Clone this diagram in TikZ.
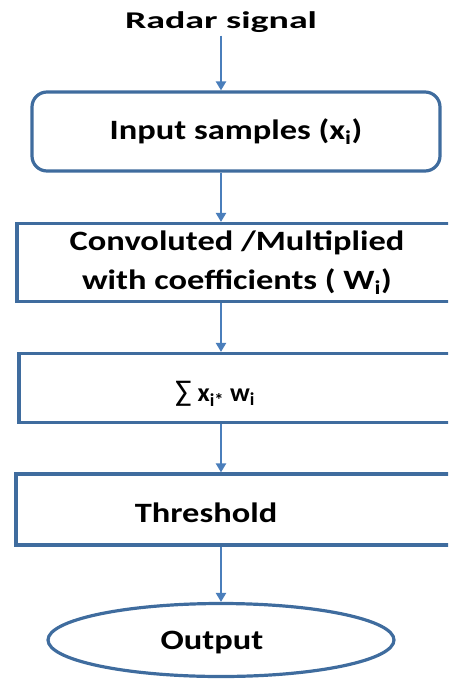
\documentclass[tikz,border=0pt]{standalone}
\usepackage{fontspec}
\usepackage{graphicx}
\setmainfont{Carlito}
\usetikzlibrary{positioning, arrows.meta, shapes.geometric}
\definecolor{boxblue}{HTML}{3F6C9E}
\definecolor{arrowblue}{HTML}{4A7EBB}
\newcommand{\widetext}[2][1.23]{\scalebox{#1}[1]{#2}}
\tikzset{
  txt/.style={font=\fontsize{28}{39}\selectfont\bfseries, align=center, inner sep=0pt},
  block/.style={draw=boxblue, line width=3.2pt, rectangle, fill=white},
  rblock/.style={block, rounded corners=15pt},
  oval/.style={draw=boxblue, line width=3.2pt, ellipse},
  flow/.style={draw=arrowblue, line width=2.4pt, -{Triangle[length=9pt, width=10pt]}},
}

\begin{document}
\begin{tikzpicture}[x=1pt, y=-1pt]
  \useasboundingbox (0,0) rectangle (448,679);
  \clip (0,0) rectangle (448,679);
  % title
  \node[txt, font=\fontsize{24}{30}\selectfont\bfseries, inner sep=3pt] (sig) at (221,22)
    {\widetext[1.58]{Radar signal}};
  % boxes
  \node[rblock, txt, minimum width=408pt, minimum height=79pt] (inp) at (236,131.5)
    {\widetext{Input samples (x\textsubscript{i})}};
  \node[block, txt, minimum width=440pt, minimum height=78pt] (conv) at (237,262.5)
    {\widetext{Convoluted /Multiplied}\\\widetext{with coefficients ( W\textsubscript{i})}};
  \node[block, minimum width=440pt, minimum height=69pt,
        label={[txt, font=\fontsize{26}{30}\selectfont\bfseries, xshift=-24pt, yshift=-6pt]center:%
          \widetext[1.02]{{\mdseries\fontsize{30}{30}\selectfont ∑} x\textsubscript{i*} w\textsubscript{i}}}] (sum) at (239,388) {};
  \node[block, minimum width=442pt, minimum height=71pt,
        label={[txt, xshift=-31pt, yshift=-3pt]center:\widetext{Threshold}}] (thr) at (237,509.5) {};
  \node[oval, minimum width=346pt, minimum height=73pt,
        label={[txt, xshift=-9pt, yshift=-3pt]center:\widetext{Output}}] (out) at (221,640) {};
  % arrows
  \draw[flow] (sig.south -| out.north) -- (inp.north -| out.north);
  \draw[flow] (inp.south -| out.north) -- (conv.north -| out.north);
  \draw[flow] (conv.south -| out.north) -- (sum.north -| out.north);
  \draw[flow] (sum.south -| out.north) -- (thr.north -| out.north);
  \draw[flow] (thr.south -| out.north) -- (out.north);
\end{tikzpicture}
\end{document}
